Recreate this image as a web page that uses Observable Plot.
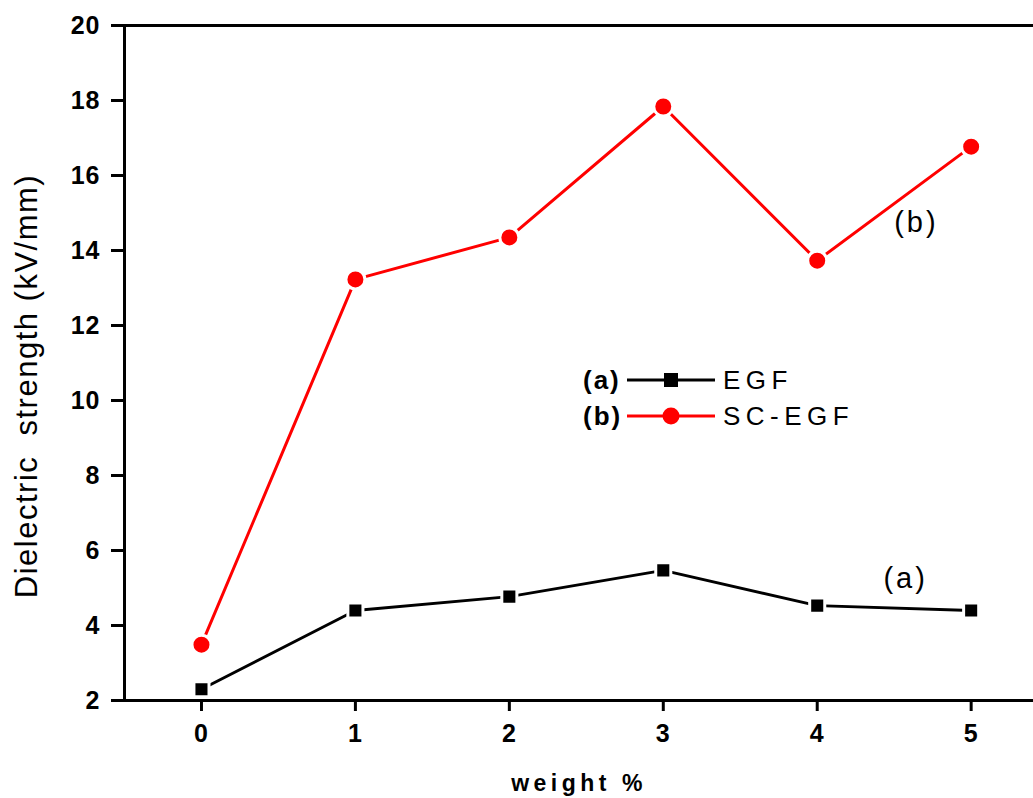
<!DOCTYPE html>
<html>
<head>
<meta charset="utf-8">
<script src="https://cdn.jsdelivr.net/npm/d3@7"></script>
<script src="https://cdn.jsdelivr.net/npm/@observablehq/plot@0.6"></script>
<style>
  html, body { margin: 0; padding: 0; background: #fff; overflow: hidden; }
  #chart { position: relative; width: 1033px; height: 798px; font-family: "Liberation Sans", Arial, sans-serif; }
  .legend { position: absolute; left: 583px; top: 362px; font-size: 26px; color: #000; }
  .legend .row { display: flex; align-items: center; height: 36px; }
  .legend .tag { font-weight: bold; width: 44px; letter-spacing: 2px; }
  .legend .name { margin-left: 6px; letter-spacing: 5.5px; }
</style>
</head>
<body>
<div id="chart"></div>
<script>
// Dielectric strength of EGF and SC-EGF composites versus filler loading
const weights = [0, 1, 2, 3, 4, 5];
const egf = [2.3, 4.4, 4.77, 5.47, 4.53, 4.4];
const scEgf = [3.49, 13.23, 14.35, 17.84, 13.73, 16.77];
const yTicks = [2, 4, 6, 8, 10, 12, 14, 16, 18, 20];
const xTicks = [0, 1, 2, 3, 4, 5];
const seriesNames = ["EGF", "SC-EGF"];
const seriesTags = ["(a)", "(b)"];
const seriesColors = ["#000000", "#ff0000"];
const yTitle = "Dielectric  strength (kV/mm)";
const xTitle = "weight %";
const annotations = [
  {x: 4.43, y: 5.25, text: "(a)"},
  {x: 4.5, y: 14.75, text: "(b)"}
];

const egfRows = weights.map((w, i) => ({w, v: egf[i]}));
const scRows = weights.map((w, i) => ({w, v: scEgf[i]}));

const plot = Plot.plot({
  width: 1033,
  height: 798,
  marginLeft: 124,
  marginRight: 0,
  marginTop: 25,
  marginBottom: 98,
  style: {fontFamily: "'Liberation Sans', Arial, sans-serif", color: "#000", background: "#fff"},
  x: {domain: [-0.5, 5.405]},
  y: {domain: [2, 20]},
  marks: [
    Plot.axisY({ticks: yTicks, tickFormat: "d", tickSize: 13, tickPadding: 11, strokeWidth: 3, fontWeight: "bold", label: null}),
    Plot.axisX({ticks: xTicks, tickFormat: "d", tickSize: 11, tickPadding: 13, strokeWidth: 3, fontWeight: "bold", label: null}),
    Plot.ruleX([-0.5], {stroke: "#000", strokeWidth: 3}),
    Plot.ruleY([2, 20], {stroke: "#000", strokeWidth: 3}),
    Plot.line(egfRows, {x: "w", y: "v", stroke: seriesColors[0], strokeWidth: 3}),
    Plot.line(scRows, {x: "w", y: "v", stroke: seriesColors[1], strokeWidth: 3}),
    Plot.dot(egfRows, {x: "w", y: "v", symbol: "square", r: 8.5, fill: seriesColors[0], stroke: "#fff", strokeWidth: 3}),
    Plot.dot(scRows, {x: "w", y: "v", symbol: "circle", r: 9.5, fill: seriesColors[1], stroke: "#fff", strokeWidth: 3}),
    Plot.text(annotations, {x: "x", y: "y", text: "text", fontSize: 29, fill: "#000", textAnchor: "start"}),
    Plot.text([yTitle], {frameAnchor: "left", textAnchor: "middle", lineAnchor: "middle", rotate: -90, dx: -97, dy: 23, fontSize: 31, fill: "#000"}),
    Plot.text([xTitle], {frameAnchor: "bottom", textAnchor: "middle", lineAnchor: "middle", dy: 83, fontSize: 23, fontWeight: "bold", fill: "#000"})
  ]
});

const chart = document.getElementById("chart");
chart.appendChild(plot);

// Tick label size and letter spacing on the chart's texts
const tickStrings = new Set([...yTicks, ...xTicks].map(String));
const svg = d3.select(plot);
svg.selectAll("text").filter(function () { return tickStrings.has(this.textContent.trim()); })
  .style("font-size", "25px")
  .style("font-weight", "bold")
  .style("letter-spacing", "1px");
svg.selectAll("text").filter(function () { return this.textContent === yTitle; })
  .attr("letter-spacing", "1.5px");
svg.selectAll("text").filter(function () { return this.textContent === xTitle; })
  .attr("letter-spacing", "4.5px");
svg.selectAll("text").filter(function () { return annotations.some(a => a.text === this.textContent); })
  .attr("letter-spacing", "3px");

// Legend block built from the series arrays
const legend = document.createElement("div");
legend.className = "legend";
seriesNames.forEach((name, i) => {
  const row = document.createElement("div");
  row.className = "row";
  const sym = i === 0
    ? `<rect x="37" y="11" width="14" height="14" fill="${seriesColors[i]}"/>`
    : `<circle cx="44" cy="18" r="8.5" fill="${seriesColors[i]}"/>`;
  row.innerHTML = `<span class="tag">${seriesTags[i]}</span>` +
    `<svg width="90" height="36"><line x1="0" x2="88" y1="18" y2="18" stroke="${seriesColors[i]}" stroke-width="3"/>${sym}</svg>` +
    `<span class="name">${name}</span>`;
  legend.appendChild(row);
});
chart.appendChild(legend);
</script>
</body>
</html>
